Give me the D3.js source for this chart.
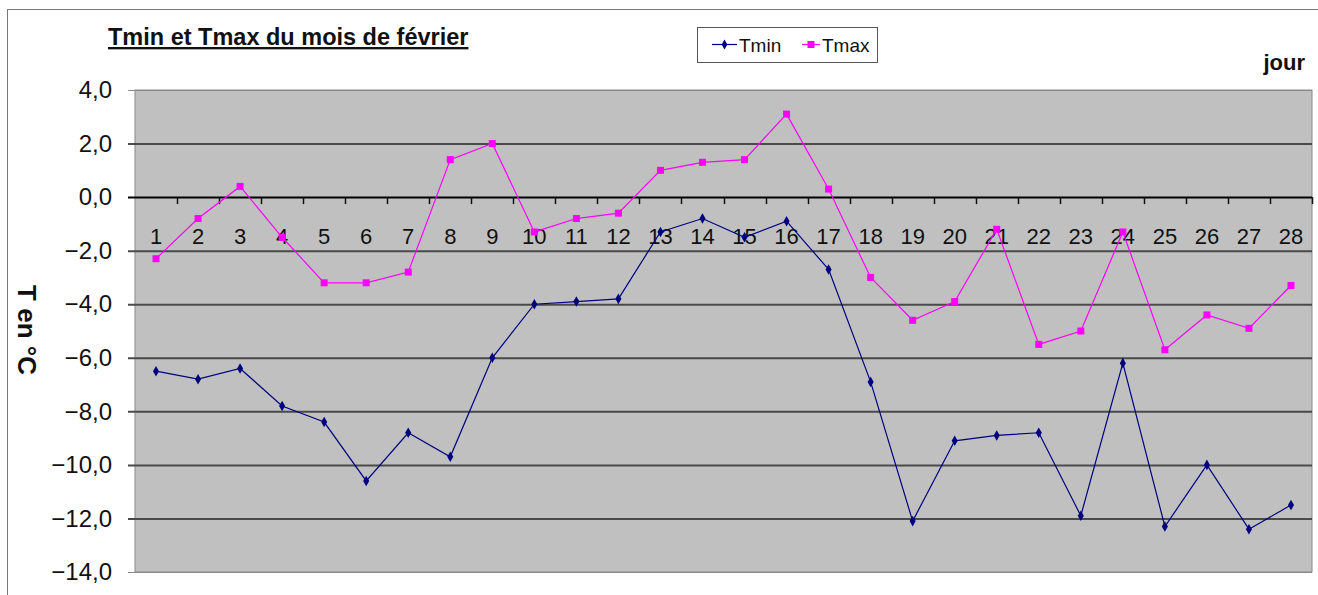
<!DOCTYPE html>
<html>
<head>
<meta charset="utf-8">
<script src="https://cdn.jsdelivr.net/npm/d3@7"></script>
<style>
  body { margin: 0; background: #fff; }
  text { font-family: "Liberation Sans", Arial, sans-serif; }
</style>
</head>
<body>
<div id="chart"></div>
<script>
var svgWidth = 1318;
var svgHeight = 595;

var margin = { top: 90, right: 6, bottom: 23, left: 135 };
var width = svgWidth - margin.left - margin.right;
var height = svgHeight - margin.top - margin.bottom;

// Data
var days = d3.range(1, 29);
var tmin = [-6.5, -6.8, -6.4, -7.8, -8.4, -10.6, -8.8, -9.7, -6.0, -4.0,
            -3.9, -3.8, -1.3, -0.8, -1.5, -0.9, -2.7, -6.9, -12.1, -9.1,
            -8.9, -8.8, -11.9, -6.2, -12.3, -10.0, -12.4, -11.5];
var tmax = [-2.3, -0.8, 0.4, -1.5, -3.2, -3.2, -2.8, 1.4, 2.0, -1.3,
            -0.8, -0.6, 1.0, 1.3, 1.4, 3.1, 0.3, -3.0, -4.6, -3.9,
            -1.2, -5.5, -5.0, -1.3, -5.7, -4.4, -4.9, -3.3];
var yTicks = d3.range(-14, 4.1, 2);

var svg = d3.select("#chart")
  .append("svg")
  .attr("width", svgWidth)
  .attr("height", svgHeight);

// outer chart frame
svg.append("rect")
  .attr("x", 7.5).attr("y", 9.5)
  .attr("width", svgWidth).attr("height", svgHeight)
  .attr("fill", "none")
  .attr("stroke", "#777");

var chartGroup = svg.append("g")
  .attr("transform", `translate(${margin.left}, ${margin.top})`);

var xScale = d3.scaleBand()
  .domain(days)
  .range([0, width])
  .padding(0);

var yScale = d3.scaleLinear()
  .domain([-14, 4])
  .range([height, 0]);

// plot background
chartGroup.append("rect")
  .attr("width", width)
  .attr("height", height)
  .attr("fill", "#c0c0c0")
  .attr("stroke", "#8a8a8a");

// horizontal grid + y labels
var leftAxis = d3.axisLeft(yScale)
  .tickValues(yTicks)
  .tickSize(-width - 7)
  .tickPadding(16)
  .tickFormat(d => d3.format(".1f")(d).replace(".", ","));

var yAxis = chartGroup.append("g")
  .attr("transform", "translate(-7,0)")
  .call(leftAxis);
yAxis.select(".domain").remove();
yAxis.selectAll(".tick line")
  .attr("stroke", d => d === 0 ? "#000" : (d === 4 || d === -14 ? "#8a8a8a" : "#4a4a4a"))
  .attr("stroke-width", d => (d === 4 || d === -14) ? 1 : 2);
yAxis.selectAll(".tick text")
  .attr("font-size", "24px")
  .attr("fill", "#111");

// category axis on the zero line
var zeroY = yScale(0);
var bottomAxis = d3.axisBottom(xScale).tickSize(0).tickPadding(31);
var xAxis = chartGroup.append("g")
  .attr("transform", `translate(0, ${zeroY})`)
  .call(bottomAxis);
xAxis.select(".domain").remove();
xAxis.selectAll(".tick text")
  .attr("font-size", "22px")
  .attr("fill", "#111");

// tick marks between categories
chartGroup.selectAll(".xmark")
  .data(days)
  .enter()
  .append("line")
  .attr("class", "xmark")
  .attr("x1", d => Math.round(xScale(d) + xScale.bandwidth()) + 0.5)
  .attr("x2", d => Math.round(xScale(d) + xScale.bandwidth()) + 0.5)
  .attr("y1", zeroY)
  .attr("y2", zeroY + 7)
  .attr("stroke", "#111")
  .attr("stroke-width", 1.5);

var cx = d => xScale(d) + xScale.bandwidth() / 2;

var line = d3.line()
  .x((d, i) => cx(days[i]))
  .y(d => yScale(d));

// Tmin series
chartGroup.append("path")
  .datum(tmin)
  .attr("d", line)
  .attr("fill", "none")
  .attr("stroke", "#000080")
  .attr("stroke-width", 1.2);

chartGroup.selectAll(".minpt")
  .data(tmin)
  .enter()
  .append("path")
  .attr("d", d3.symbol().type(d3.symbolDiamond).size(32))
  .attr("transform", (d, i) => `translate(${cx(days[i])}, ${yScale(d)})`)
  .attr("fill", "#000080");

// Tmax series
chartGroup.append("path")
  .datum(tmax)
  .attr("d", line)
  .attr("fill", "none")
  .attr("stroke", "#ff00ff")
  .attr("stroke-width", 1.2);

chartGroup.selectAll(".maxpt")
  .data(tmax)
  .enter()
  .append("rect")
  .attr("x", (d, i) => cx(days[i]) - 3.5)
  .attr("y", d => yScale(d) - 3.5)
  .attr("width", 7)
  .attr("height", 7)
  .attr("fill", "#ff00ff");

// Title
svg.append("text")
  .attr("x", 108)
  .attr("y", 45)
  .attr("font-size", "23.5px")
  .attr("font-weight", "bold")
  .attr("text-decoration", "underline")
  .attr("fill", "#111")
  .text("Tmin et Tmax du mois de février");

// Legend
var legend = svg.append("g").attr("transform", "translate(697, 27)");
legend.append("rect")
  .attr("x", 0.5).attr("y", 0.5)
  .attr("width", 180).attr("height", 35)
  .attr("fill", "#fff")
  .attr("stroke", "#555");

var legendItems = [
  { name: "Tmin", color: "#000080", x: 15, lineW: 25 },
  { name: "Tmax", color: "#ff00ff", x: 105, lineW: 18 }
];
legendItems.forEach(function(item) {
  legend.append("line")
    .attr("x1", item.x).attr("x2", item.x + item.lineW)
    .attr("y1", 17.5).attr("y2", 17.5)
    .attr("stroke", item.color)
    .attr("stroke-width", 1.2);
  if (item.name === "Tmin") {
    legend.append("path")
      .attr("d", d3.symbol().type(d3.symbolDiamond).size(28))
      .attr("transform", `translate(${item.x + item.lineW / 2}, 17.5)`)
      .attr("fill", item.color);
  } else {
    legend.append("rect")
      .attr("x", item.x + item.lineW / 2 - 3.5).attr("y", 14)
      .attr("width", 7).attr("height", 7)
      .attr("fill", item.color);
  }
  legend.append("text")
    .attr("x", item.x + item.lineW + 2)
    .attr("y", 24.5)
    .attr("font-size", "19px")
    .attr("fill", "#111")
    .text(item.name);
});

// "jour" label
svg.append("text")
  .attr("x", 1305)
  .attr("y", 70)
  .attr("text-anchor", "end")
  .attr("font-size", "22px")
  .attr("font-weight", "bold")
  .attr("fill", "#111")
  .text("jour");

// Y-axis label
svg.append("text")
  .attr("transform", "translate(18, 330) rotate(90)")
  .attr("text-anchor", "middle")
  .attr("font-size", "26px")
  .attr("font-weight", "bold")
  .attr("fill", "#111")
  .text("T en °C");
</script>
</body>
</html>
